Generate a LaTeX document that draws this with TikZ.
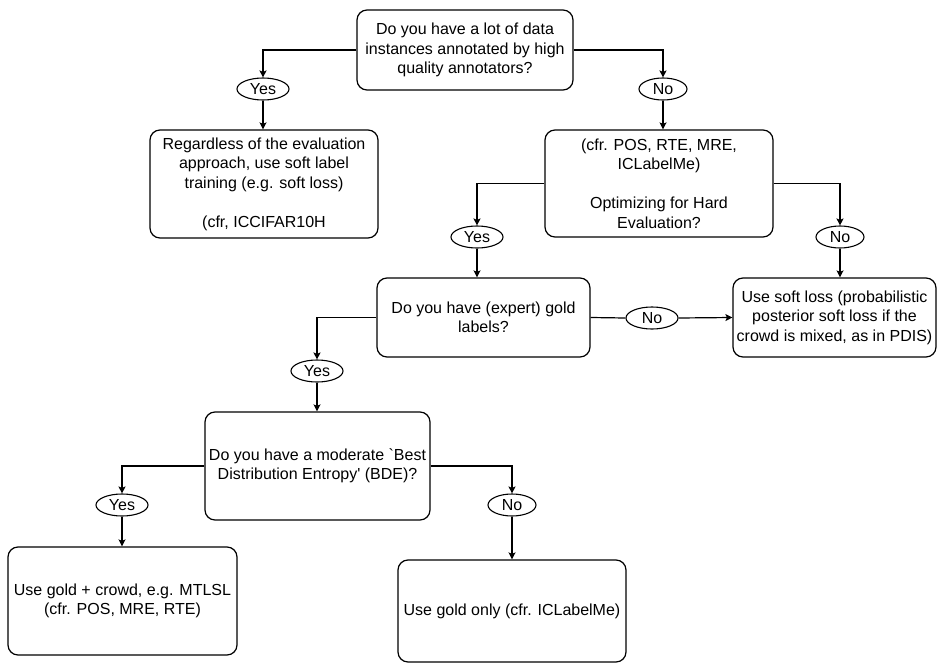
\documentclass[tikz,border=0pt]{standalone}
\usepackage{fontspec}
\setmainfont{Liberation Sans}[Ligatures=TeXOff]
\usetikzlibrary{arrows.meta,shapes.geometric}
\begin{document}
\begin{tikzpicture}[x=1pt,y=-1pt,
  box/.style={draw=black,line width=1.2pt,rounded corners=10pt,align=center,inner sep=2pt,
    font=\fontsize{16}{19.5}\selectfont},
  lab/.style={draw=black,ellipse,line width=1.1pt,minimum width=52pt,minimum height=22pt,inner sep=0pt,
    font=\fontsize{16}{19}\selectfont},
  arr/.style={line width=1.2pt,-{Stealth[length=7pt,width=7pt,inset=1.5pt]}},
  ln/.style={line width=1.2pt}]
\useasboundingbox (0,0) rectangle (938,664);
\fill[white] (0,0) rectangle (938,664);

\node[box,minimum width=216pt,minimum height=80pt] (b1) at (465,50)
  {Do you have a lot of data\\instances annotated by high\\quality annotators?};
\node[box,minimum width=228pt,minimum height=108pt] (b2) at (264,184)
  {Regardless of the evaluation\\approach, use soft label\\training (e.g. soft loss)\\ \mbox{}\\(cfr, ICCIFAR10H};
\node[box,minimum width=228pt,minimum height=107pt] (b3) at (659,183.5)
  {(cfr. POS, RTE, MRE,\\ICLabelMe)\\ \mbox{}\\Optimizing for Hard\\Evaluation?};
\node[box,minimum width=213pt,minimum height=79pt] (b4) at (483.5,317.5)
  {Do you have (expert) gold\\labels?};
\node[box,minimum width=203pt,minimum height=79pt] (b5) at (834.5,317.5)
  {Use soft loss (probabilistic\\posterior soft loss if the\\crowd is mixed, as in PDIS)};
\node[box,minimum width=225pt,minimum height=108pt] (b6) at (317.5,466)
  {Do you have a moderate `Best\\Distribution Entropy' (BDE)?};
\node[box,minimum width=229pt,minimum height=108pt] (b7) at (122.5,601)
  {Use gold + crowd, e.g. MTLSL\\(cfr. POS, MRE, RTE)};
\node[box,minimum width=228pt,minimum height=102pt] (b8) at (512,611)
  {Use gold only (cfr. ICLabelMe)};

\node[lab] (y1) at (263,89) {Yes};
\node[lab,minimum width=48pt] (n1) at (663,89) {No};
\node[lab] (y2) at (477,237) {Yes};
\node[lab,minimum width=48pt] (n2) at (840,237) {No};
\node[lab,minimum width=52pt] (n3) at (652,318) {No};
\node[lab] (y3) at (317,371) {Yes};
\node[lab] (y4) at (122,505) {Yes};
\node[lab,minimum width=48pt] (n4) at (512,505) {No};

\draw[arr] (b1.west) -| (y1.north);
\draw[arr] (y1.south) -- (y1.south |- b2.north);
\draw[arr] (b1.east) -| (n1.north);
\draw[arr] (n1.south) -- (n1.south |- b3.north);
\draw[arr] (b3.west) -| (y2.north);
\draw[arr] (y2.south) -- (y2.south |- b4.north);
\draw[arr] (b3.east) -| (n2.north);
\draw[arr] (n2.south) -- (n2.south |- b5.north);
\draw[ln] (b4.east) -- (n3.west);
\draw[arr] (n3.east) -- (b5.west);
\draw[arr] (b4.west) -| (y3.north);
\draw[arr] (y3.south) -- (y3.south |- b6.north);
\draw[arr] (b6.west) -| (y4.north);
\draw[arr] (y4.south) -- (y4.south |- b7.north);
\draw[arr] (b6.east) -| (n4.north);
\draw[arr] (n4.south) -- (n4.south |- b8.north);
\end{tikzpicture}
\end{document}
